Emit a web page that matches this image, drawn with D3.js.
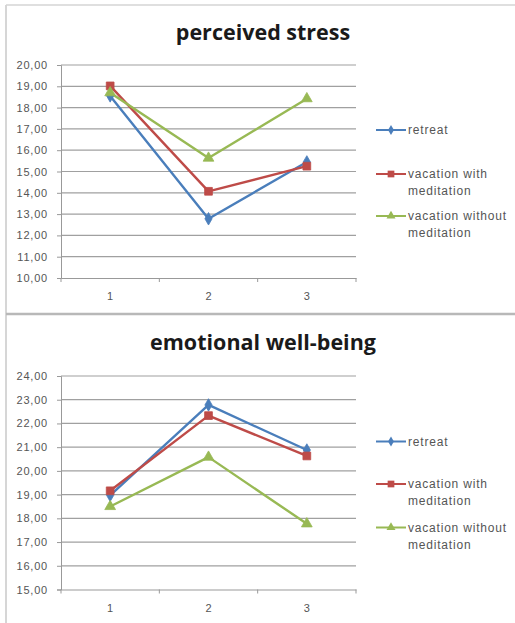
<!DOCTYPE html>
<html><head><meta charset="utf-8">
<script src="https://cdn.jsdelivr.net/npm/d3@7"></script>
<style>body{margin:0;background:#fff}svg{display:block}</style>
</head><body>
<script>
const categories = ["1", "2", "3"];
const seriesNames = ["retreat", "vacation with meditation", "vacation without meditation"];
const legendLines = [["retreat"], ["vacation with", "meditation"], ["vacation without", "meditation"]];
const stressRetreat = [18.55, 12.78, 15.45];
const stressWith = [19.02, 14.07, 15.25];
const stressWithout = [18.7, 15.63, 18.42];
const wellRetreat = [18.97, 22.78, 20.88];
const wellWith = [19.16, 22.33, 20.63];
const wellWithout = [18.5, 20.58, 17.77];
const stressTicks = [10, 11, 12, 13, 14, 15, 16, 17, 18, 19, 20];
const wellTicks = [15, 16, 17, 18, 19, 20, 21, 22, 23, 24];

const colors = ["#4a7ebb", "#be4b48", "#98b954"];
const W = 515, H = 623;
const svg = d3.select("body").append("svg").attr("width", W).attr("height", H);

// frame
svg.append("line").attr("x1", 6).attr("x2", 6).attr("y1", 5).attr("y2", H).attr("stroke", "#c8c8c8").attr("stroke-width", 1.5);
svg.append("line").attr("x1", 6).attr("x2", W).attr("y1", 5).attr("y2", 5).attr("stroke", "#d4d4d4").attr("stroke-width", 1.5);
svg.append("line").attr("x1", 6).attr("x2", W).attr("y1", 314).attr("y2", 314).attr("stroke", "#b8b8b8").attr("stroke-width", 2.5);

function drawPanel(cfg) {
  const g = svg.append("g");
  const x = d3.scaleBand().domain(categories).range([61, 356]);
  const y = d3.scaleLinear().domain([cfg.ticks[0], cfg.ticks[cfg.ticks.length - 1]]).range([cfg.bottom, cfg.top]);

  g.append("text").attr("x", 263).attr("y", cfg.titleY).attr("text-anchor", "middle")
    .attr("font-family", "Open Sans, sans-serif").attr("font-weight", "bold").attr("font-size", 21.5)
    .attr("fill", "#1a1a1a").text(cfg.title);

  // gridlines
  g.selectAll(".grid").data(cfg.ticks.slice(1)).join("line")
    .attr("x1", 61).attr("x2", 356).attr("y1", d => y(d)).attr("y2", d => y(d))
    .attr("stroke", "#a0a0a0").attr("stroke-width", 1.2);

  const yAxis = d3.axisLeft(y).tickValues(cfg.ticks).tickSize(4).tickFormat(d => d3.format(".2f")(d).replace(".", ","));
  const ya = g.append("g").attr("transform", "translate(61,0)").call(yAxis);
  ya.select(".domain").attr("stroke", "#999");
  ya.selectAll(".tick line").attr("stroke", "#999");
  ya.selectAll("text").attr("font-family", "Liberation Sans, Arial, sans-serif").attr("font-size", 11)
    .attr("letter-spacing", 0.8).attr("fill", "#555").attr("x", -13);

  const xAxis = d3.axisBottom(x).tickSizeOuter(0).tickSize(0);
  const xa = g.append("g").attr("transform", `translate(0,${cfg.bottom})`).call(xAxis);
  xa.select(".domain").attr("stroke", "#999");
  xa.selectAll("text").attr("font-family", "Liberation Sans, Arial, sans-serif").attr("font-size", 11).attr("fill", "#555").attr("dy", "1.75em");
  // category boundary ticks
  g.selectAll(".bt").data(categories.slice(0).concat(["end"])).join("line")
    .attr("x1", (d, i) => 61 + i * x.bandwidth()).attr("x2", (d, i) => 61 + i * x.bandwidth())
    .attr("y1", cfg.bottom).attr("y2", cfg.bottom + 4).attr("stroke", "#999");

  const line = d3.line().x((d, i) => x(categories[i]) + x.bandwidth() / 2).y(d => y(d));
  cfg.series.forEach((vals, si) => {
    g.append("path").datum(vals).attr("d", line).attr("fill", "none")
      .attr("stroke", colors[si]).attr("stroke-width", 2.4).attr("stroke-linejoin", "round");
  });
  cfg.series.forEach((vals, si) => {
    const sym = [d3.symbolDiamond, d3.symbolSquare, d3.symbolTriangle][si];
    const size = [45, 60, 50][si];
    g.selectAll(null).data(vals).join("path")
      .attr("transform", (d, i) => `translate(${x(categories[i]) + x.bandwidth() / 2},${y(d)})`)
      .attr("d", d3.symbol().type(sym).size(size)).attr("fill", colors[si]).attr("stroke", colors[si]).attr("stroke-width", 0.8);
  });

  // legend
  cfg.legendY.forEach((ly, si) => {
    g.append("line").attr("x1", 376).attr("x2", 406).attr("y1", ly).attr("y2", ly).attr("stroke", colors[si]).attr("stroke-width", 2);
    const sym = [d3.symbolDiamond, d3.symbolSquare, d3.symbolTriangle][si];
    g.append("path").attr("transform", `translate(391,${ly})`).attr("d", d3.symbol().type(sym).size([30, 45, 35][si])).attr("fill", colors[si]);
    const t = g.append("text").attr("x", 408).attr("y", ly + 4).attr("font-family", "Liberation Sans, Arial, sans-serif")
      .attr("font-size", 12).attr("letter-spacing", 0.8).attr("fill", "#555");
    legendLines[si].forEach((s, k) => t.append("tspan").attr("x", 408).attr("dy", k === 0 ? 0 : 17).text(s));
  });
}

drawPanel({
  title: "perceived stress", titleY: 40, top: 65, bottom: 278, ticks: stressTicks,
  series: [stressRetreat, stressWith, stressWithout], legendY: [130, 174, 216]
});
drawPanel({
  title: "emotional well-being", titleY: 350, top: 376, bottom: 589.5, ticks: wellTicks,
  series: [wellRetreat, wellWith, wellWithout], legendY: [441.5, 484, 527.5]
});
</script>
</body></html>
